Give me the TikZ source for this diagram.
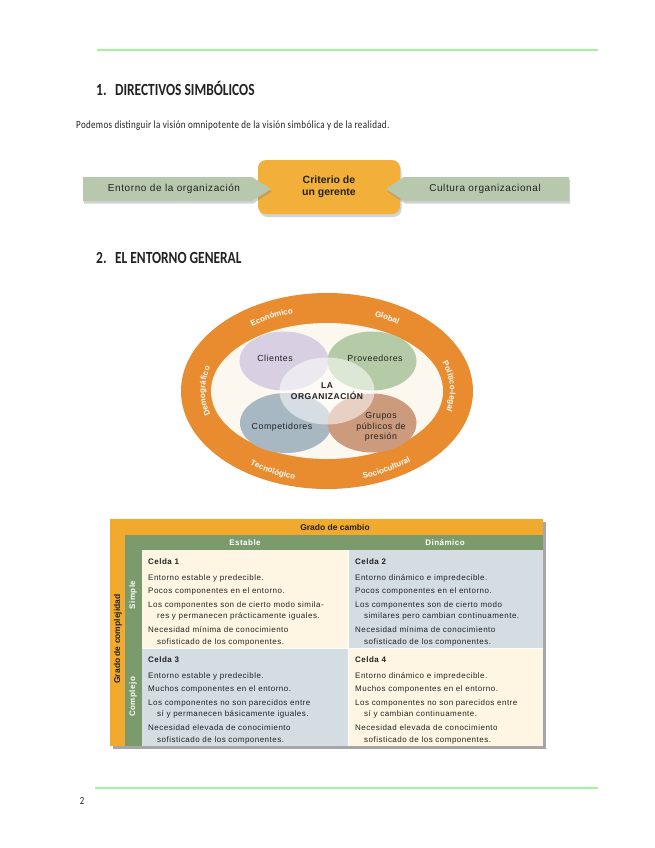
\documentclass[tikz,border=0pt]{standalone}
\usepackage{fontspec}
\setmainfont{Liberation Sans}
\newfontfamily\headfont[FakeStretch=0.79]{Carlito}
\newfontfamily\bodyfont[FakeStretch=0.82,LetterSpace=3]{Carlito}
\newfontfamily\tsans[LetterSpace=6]{Liberation Sans}
\usetikzlibrary{shadows,decorations.text,shapes.geometric}

\definecolor{linegreen}{HTML}{A0F59A}
\definecolor{arrowgreen}{HTML}{B8C8AC}
\definecolor{boxorange}{HTML}{F2AF3A}
\definecolor{ringorange}{HTML}{E98B2F}
\definecolor{innercream}{HTML}{FDF8EF}
\definecolor{clientec}{HTML}{D8CFE2}
\definecolor{provc}{HTML}{B5CAA6}
\definecolor{compc}{HTML}{A8B8C3}
\definecolor{gruposc}{HTML}{CC9A7D}
\definecolor{tblorange}{HTML}{F2AA2E}
\definecolor{tblgreen}{HTML}{7C9B6C}
\definecolor{creamc}{HTML}{FEF6E2}
\definecolor{bluegrey}{HTML}{D3DDE2}
\definecolor{darktext}{HTML}{222222}

\tikzset{
  rule/.style={draw=linegreen, line width=1.6pt},
  heading/.style={anchor=west, inner sep=0pt, font=\headfont\bfseries\fontsize{17}{19}\selectfont, text=darktext},
  bodytxt/.style={anchor=west, inner sep=0pt, font=\bodyfont\fontsize{11}{12}\selectfont, text=darktext},
  arrowshape/.style={fill=arrowgreen, drop shadow={shadow xshift=1pt, shadow yshift=-2.5pt, opacity=0.35}},
  arrowlbl/.style={inner sep=0pt, font=\tsans\fontsize{10}{11}\selectfont, text=darktext},
  critbox/.style={fill=boxorange, rounded corners=8pt, minimum width=142pt, minimum height=54pt,
     drop shadow={shadow xshift=1.5pt, shadow yshift=-3pt, opacity=0.35}, align=center,
     font=\bfseries\fontsize{10.5}{12.5}\selectfont, text=darktext},
  bubble/.style={ellipse, inner sep=0pt, minimum width=89pt, minimum height=59pt},
  bubbletxt/.style={inner sep=0pt, align=center, font=\tsans\fontsize{8.8}{10.5}\selectfont, text=darktext},
  ringlbl/.style={decorate, decoration={text along path, text align=center, text color=white,
     text={|\bfseries\fontsize{8}{9}\selectfont|#1}}},
  cellbox/.style={anchor=north west, inner sep=0pt, minimum width=206pt, minimum height=98pt},
  celltxt/.style={anchor=north west, inner sep=0pt, align=left, font=\tsans\fontsize{8}{11.6}\selectfont, text=darktext},
  hdrtxt/.style={inner sep=0pt, font=\tsans\bfseries\fontsize{8}{9}\selectfont},
}

\newcommand{\ci}{\\[2pt]}
\newcommand{\cont}{\\\hspace*{9pt}}

\begin{document}
\begin{tikzpicture}[x=1pt,y=-1pt]
\useasboundingbox (0,0) rectangle (655,848);
\fill[white] (0,0) rectangle (655,848);

% rules
\coordinate (r1a) at (97,50); \coordinate (r1b) at (598,50);
\draw[rule] (r1a) -- (r1b);
\coordinate (r2a) at (95,788); \coordinate (r2b) at (598,788);
\draw[rule] (r2a) -- (r2b);
\node[anchor=center, inner sep=0pt, font=\headfont\fontsize{11}{12}\selectfont, text=darktext] (pg) at (82,801) {2};

% headings
\node[heading] (h1) at (96,88) {1.\enspace DIRECTIVOS SIMBÓLICOS};
\node[bodytxt] (b1) at (76,126) {Podemos distinguir la visión omnipotente de la visión simbólica y de la realidad.};
\node[heading] (h2) at (96,258) {2.\enspace EL ENTORNO GENERAL};

% criterio diagram
\node[critbox] (crit) at (329,187) {Criterio de\\un gerente};
\path[arrowshape] (83,177) -- (252,177) -- (271,189) -- (252,201) -- (83,201) -- cycle;
\path[arrowshape] (569,177) -- (404,177) -- (386,189) -- (404,201) -- (569,201) -- cycle;
\node[arrowlbl] (ent) at (174,189) {Entorno de la organización};
\node[arrowlbl] (cul) at (485,189) {Cultura organizacional};

% entorno general
\begin{scope}[shift={(327,391)}, y=1pt]
  \fill[ringorange] (0,0) ellipse [x radius=146, y radius=98];
  \fill[innercream] (0,0) ellipse [x radius=116, y radius=68];
  \path[ringlbl=Económico] (146:124 and 81) arc[start angle=146, end angle=90, x radius=124, y radius=81];
  \path[ringlbl=Global] (84:124 and 81) arc[start angle=84, end angle=36, x radius=124, y radius=81];
  \path[ringlbl=Político-legal] (30:123 and 81) arc[start angle=30, end angle=-24, x radius=123, y radius=81];
  \path[ringlbl=Demográfico] (214:122 and 81) arc[start angle=214, end angle=146, x radius=122, y radius=81];
  \path[ringlbl=Sociocultural] (266:131 and 91) arc[start angle=266, end angle=334, x radius=131, y radius=91];
  \path[ringlbl=Tecnológico] (210:131 and 91) arc[start angle=210, end angle=276, x radius=131, y radius=91];
\end{scope}

\node[bubble, fill=clientec] (cli) at (284,361) {};
\node[bubble, fill=provc] (pro) at (372,361) {};
\node[bubble, fill=compc, minimum width=92pt, minimum height=60pt] (com) at (286,423) {};
\node[bubble, fill=gruposc] (gru) at (372,423) {};
\node[bubble, fill=white, fill opacity=0.55, minimum width=95pt, minimum height=67pt] (org) at (327,391) {};
\node[bubbletxt] (tcli) at (275,358) {Clientes};
\node[bubbletxt] (tpro) at (375,358) {Proveedores};
\node[bubbletxt] (tcom) at (282,427) {Competidores};
\node[bubbletxt] (tgru) at (381,427) {Grupos\\públicos de\\presión};
\node[bubbletxt, font=\tsans\bfseries\fontsize{8.5}{10.5}\selectfont] (torg) at (327,391) {LA\\ORGANIZACIÓN};

% table
\fill[black!35] (113,522) rectangle (546,749);
\node[anchor=north west, inner sep=0pt, fill=tblorange, minimum width=433pt, minimum height=227pt] (tbl) at (110,519) {};
\node[anchor=north west, inner sep=0pt, fill=tblgreen, minimum width=418pt, minimum height=211pt] (tgr) at (125,535) {};
\node[cellbox, fill=creamc] (c1) at (142,550) {};
\node[cellbox, fill=bluegrey, minimum width=195pt] (c2) at (348,550) {};
\node[cellbox, fill=bluegrey] (c3) at (142,648) {};
\node[cellbox, fill=creamc, minimum width=195pt] (c4) at (348,648) {};
\draw[white, line width=0.8pt] (c1.north east) -- (c3.south east);
\draw[white, line width=0.8pt] (c1.south west) -- (c2.south east);

\node[hdrtxt, text=darktext, font=\bfseries\fontsize{8.5}{9}\selectfont] (gcam) at (335,527) {Grado de cambio};
\node[hdrtxt, text=white] (est) at (245,543) {Estable};
\node[hdrtxt, text=white] (din) at (445,543) {Dinámico};
\node[hdrtxt, text=white, rotate=90] (sim) at (133,595) {Simple};
\node[hdrtxt, text=white, rotate=90] (cpj) at (133,697) {Complejo};
\node[hdrtxt, text=darktext, rotate=90, font=\bfseries\fontsize{8.5}{9}\selectfont] (gcom) at (118,639) {Grado de complejidad};

\node[celltxt] (t1) at (148,558.5) {\textbf{Celda 1}\\[4pt]
Entorno estable y predecible.\ci
Pocos componentes en el entorno.\ci
Los componentes son de cierto modo simila-\cont res y permanecen prácticamente iguales.\ci
Necesidad mínima de conocimiento\cont sofisticado de los componentes.};
\node[celltxt] (t2) at (355,558.5) {\textbf{Celda 2}\\[4pt]
Entorno dinámico e impredecible.\ci
Pocos componentes en el entorno.\ci
Los componentes son de cierto modo\cont similares pero cambian continuamente.\ci
Necesidad mínima de conocimiento\cont sofisticado de los componentes.};
\node[celltxt] (t3) at (148,656.5) {\textbf{Celda 3}\\[4pt]
Entorno estable y predecible.\ci
Muchos componentes en el entorno.\ci
Los componentes no son parecidos entre\cont sí y permanecen básicamente iguales.\ci
Necesidad elevada de conocimiento\cont sofisticado de los componentes.};
\node[celltxt] (t4) at (355,656.5) {\textbf{Celda 4}\\[4pt]
Entorno dinámico e impredecible.\ci
Muchos componentes en el entorno.\ci
Los componentes no son parecidos entre\cont sí y cambian continuamente.\ci
Necesidad elevada de conocimiento\cont sofisticado de los componentes.};
\end{tikzpicture}
\end{document}
